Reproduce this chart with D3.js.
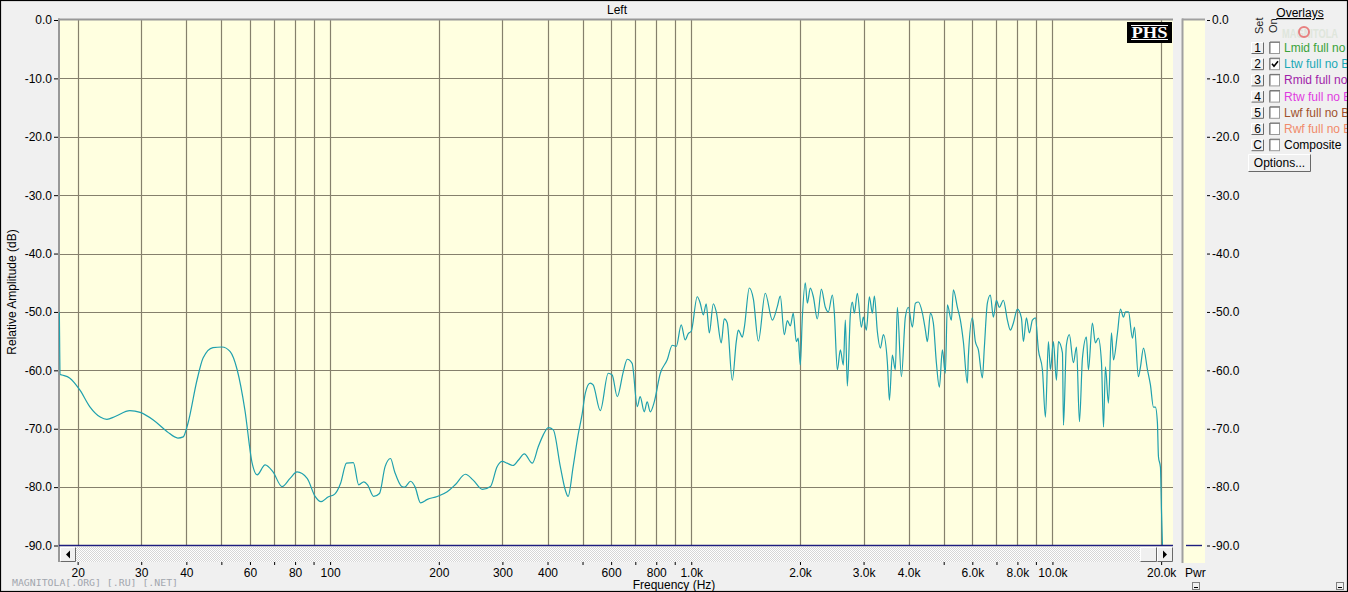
<!DOCTYPE html>
<html><head><meta charset="utf-8">
<script src="https://cdn.jsdelivr.net/npm/d3@7"></script>
<style>
html,body{margin:0;padding:0;background:#f0f0f0;overflow:hidden;}
svg{display:block;font-family:"Liberation Sans",Arial,sans-serif;}
</style></head><body>
<svg id="chart" width="1348" height="592"></svg>
<script>
// ---------------- data ----------------
const chartTitle = "Left";
const freqRange = [17.76, 21570];
const dbRange = [-90, 0];
// [frequency Hz, level dB]
const lowBand = [[17.8,-50.0],[17.9,-60.7],[18.1,-60.8],[19.0,-61.3],[20.3,-63.4],[21.6,-66.2],[23.1,-68.0],[24.1,-68.4],[25.4,-67.9],[27.9,-66.9],[29.8,-67.2],[32.4,-68.5],[35.4,-70.5],[37.9,-71.6],[39.2,-71.4],[40.4,-69.1],[42.8,-61.7],[44.5,-57.9],[47.4,-56.1],[50.2,-56.0],[52.9,-56.8],[55.3,-59.9],[58.1,-66.8],[60.8,-75.8],[62.8,-77.9],[66.1,-76.2],[69.5,-77.4],[73.6,-79.9],[77.5,-78.5],[81.0,-77.4],[86.4,-78.5],[90.9,-81.6],[94.4,-82.5]];
const midBand = [[98.7,-81.7],[103,-81.2],[107,-79.3],[111,-75.9],[116,-75.8],[120,-79.6],[124,-79.1],[127,-79.6],[132,-81.6],[137,-81.1],[142,-76.5],[147,-75.1],[151,-77.4],[158,-79.9],[161,-80.0],[167,-79.0],[172,-80.0],[178,-82.7],[186,-82.1],[198,-81.6],[211,-80.8],[222,-79.6],[237,-77.8],[249,-78.8],[264,-80.4],[278,-79.9],[290,-76.5],[300,-75.6],[309,-75.9],[321,-76.3],[332,-75.4],[345,-74.3],[363,-75.9],[377,-73.1],[389,-71.1],[402,-69.8],[415,-70.2],[434,-76.5],[448,-80.5],[456,-81.6],[471,-76.5],[486,-71.1],[499,-67.4],[509,-63.9],[525,-62.2],[535,-62.5],[560,-66.9],[589,-60.5],[604,-60.8],[624,-64.5],[648,-60.3],[665,-58.1],[686,-58.8],[709,-66.2],[722,-64.5],[741,-67.1],[755,-65.4],[770,-67.1],[790,-65.4],[821,-60.5],[858,-58.2],[886,-55.7],[909,-55.9],[938,-52.2],[962,-54.8],[981,-53.7]];
const highBand = [[1000,-53.3],[1039,-47.4],[1059,-48.5],[1080,-50.5],[1100,-48.6],[1122,-53.6],[1151,-48.6],[1173,-50.0],[1211,-55.3],[1234,-51.2],[1258,-51.9],[1299,-61.7],[1333,-55.0],[1350,-53.1],[1385,-54.3],[1403,-52.6],[1448,-45.9],[1486,-47.8],[1534,-55.0],[1603,-46.8],[1677,-51.4],[1731,-49.1],[1764,-47.3],[1810,-53.9],[1845,-51.5],[1881,-52.4],[1916,-50.2],[1954,-55.1],[1978,-54.5],[2004,-59.1],[2030,-51.0],[2069,-45.0],[2096,-48.5],[2136,-45.9],[2178,-47.4],[2234,-51.2],[2292,-46.1],[2351,-49.2],[2396,-50.0],[2459,-47.1],[2490,-50.2],[2538,-59.9],[2587,-56.5],[2637,-59.1],[2671,-51.4],[2705,-62.7],[2757,-50.5],[2793,-48.3],[2829,-50.2],[2883,-46.8],[2958,-52.6],[2996,-50.9],[3054,-53.1],[3113,-47.4],[3173,-50.2],[3214,-47.3],[3276,-53.4],[3339,-56.2],[3404,-53.9],[3492,-58.7],[3537,-65.1],[3604,-57.4],[3673,-59.9],[3721,-49.2],[3818,-61.1],[3916,-50.9],[3992,-49.2],[4095,-52.6],[4174,-48.5],[4255,-48.3],[4365,-50.2],[4449,-53.1],[4506,-55.1],[4593,-50.2],[4681,-51.9],[4772,-58.7],[4864,-62.9],[4958,-56.5],[5053,-60.5],[5118,-48.8],[5251,-51.4],[5318,-46.2],[5456,-49.2],[5561,-51.4],[5668,-55.1],[5814,-62.2],[5851,-57.7],[6003,-51.0],[6119,-55.1],[6237,-56.5],[6398,-61.3],[6480,-56.0],[6605,-48.5],[6732,-47.1],[6863,-50.9],[6996,-48.0],[7130,-49.2],[7315,-48.0],[7505,-51.4],[7649,-53.1],[7797,-51.9],[7998,-49.5],[8206,-51.0],[8311,-55.1],[8472,-51.0],[8635,-53.6],[8802,-51.4],[8972,-51.0],[9145,-56.5],[9382,-59.9],[9563,-68.0],[9747,-55.1],[9872,-59.9],[10063,-55.1],[10258,-61.7],[10389,-55.1],[10660,-57.0],[10730,-69.4],[10930,-55.7],[11140,-53.9],[11430,-58.7],[11660,-56.0],[11880,-68.8],[12110,-57.9],[12420,-54.3],[12580,-59.9],[12900,-51.9],[13150,-55.3],[13400,-54.5],[13670,-58.6],[13850,-69.7],[14020,-59.4],[14290,-65.6],[14570,-53.6],[14760,-58.2],[15140,-53.6],[15430,-49.5],[15730,-50.9],[15930,-50.0],[16240,-50.0],[16660,-54.5],[16870,-52.6],[17300,-61.1],[17530,-59.4],[17870,-56.2],[18330,-59.9],[18680,-62.5],[19040,-66.3],[19280,-66.3],[19530,-69.0],[19660,-74.8],[19910,-76.6],[20040,-83.9],[20170,-90.0]];

const freqTicks = [20,30,40,50,60,70,80,90,100,200,300,400,500,600,700,800,900,1000,2000,3000,4000,5000,6000,7000,8000,9000,10000,20000];
const freqTickLabels = ["20","30","40","","60","","80","","100","200","300","400","","600","","800","","1.0k","2.0k","3.0k","4.0k","","6.0k","","8.0k","","10.0k","20.0k"];
const dbTicks = [0,-10,-20,-30,-40,-50,-60,-70,-80,-90];

const overlaySet = ["1","2","3","4","5","6","C"];
const overlayNames = ["Lmid full no B","Ltw full no B","Rmid full no B","Rtw full no B","Lwf full no B","Rwf full no B","Composite"];
const overlayColors = ["#3aa23a","#1aa8b6","#a01ea8","#e03ce0","#a0522d","#f08a6a","#000000"];
const overlayOn = [false,true,false,false,false,false,false];

// ---------------- layout ----------------
const svg = d3.select("#chart");
const P = {left:59, right:1173, top:19, bottom:545.5};
const x = d3.scaleLog().domain(freqRange).range([P.left, P.right]);
const y = d3.scaleLinear().domain(dbRange).range([P.bottom, 20]);

svg.append("rect").attr("width",1348).attr("height",592).attr("fill","#f0f0f0");

// plot background
svg.append("rect").attr("x",P.left).attr("y",P.top).attr("width",P.right-P.left).attr("height",P.bottom-P.top+1).attr("fill","#ffffe0");

// grid
const grid = svg.append("g").attr("stroke","#85806c").attr("stroke-width",1.2);
grid.selectAll("line.v").data(freqTicks).join("line")
  .attr("x1",d=>Math.round(x(d))+0.5).attr("x2",d=>Math.round(x(d))+0.5)
  .attr("y1",P.top).attr("y2",P.bottom);
grid.selectAll("line.h").data(dbTicks.filter(d=>d>-90 && d<0)).join("line")
  .attr("y1",d=>Math.round(y(d))+0.5).attr("y2",d=>Math.round(y(d))+0.5)
  .attr("x1",P.left).attr("x2",P.right);

// plot borders top/left
svg.append("line").attr("x1",P.left-1).attr("x2",P.right).attr("y1",19.5).attr("y2",19.5).attr("stroke","#989898").attr("stroke-width",2);
svg.append("line").attr("x1",59).attr("x2",59).attr("y1",18.5).attr("y2",562).attr("stroke","#989898").attr("stroke-width",2);

// curve
svg.append("clipPath").attr("id","plotClip").append("rect")
  .attr("x",P.left).attr("y",P.top).attr("width",P.right-P.left).attr("height",P.bottom-P.top+1);
const curveData = lowBand.concat(midBand, highBand);
const line = d3.line().x(d=>x(d[0])).y(d=>y(d[1])).curve(d3.curveMonotoneX);
svg.append("path").datum(curveData).attr("d",line).attr("fill","none")
  .attr("stroke","#1fa0ae").attr("stroke-width",1.2).attr("clip-path","url(#plotClip)");

// -90 baseline (navy)
svg.append("line").attr("x1",P.left).attr("x2",P.right).attr("y1",y(-90)).attr("y2",y(-90))
  .attr("stroke","#1e1e80").attr("stroke-width",1.4);

// PHS logo
const logo = svg.append("g");
logo.append("rect").attr("x",1127).attr("y",22).attr("width",45).attr("height",21).attr("fill","#000");
logo.append("line").attr("x1",1131).attr("x2",1168).attr("y1",25.5).attr("y2",25.5).attr("stroke","#fff").attr("stroke-width",1);
logo.append("line").attr("x1",1131).attr("x2",1168).attr("y1",39.5).attr("y2",39.5).attr("stroke","#fff").attr("stroke-width",1);
logo.append("text").attr("x",1149.5).attr("y",38).attr("text-anchor","middle")
  .attr("font-family","'Liberation Serif','Times New Roman',serif").attr("font-weight","bold")
  .attr("font-size",17).attr("fill","#fff").attr("textLength",36).attr("lengthAdjust","spacingAndGlyphs").text("PHS");

// scrollbar
const defs = svg.append("defs");
const pat = defs.append("pattern").attr("id","dither").attr("width",2).attr("height",2).attr("patternUnits","userSpaceOnUse");
pat.append("rect").attr("width",2).attr("height",2).attr("fill","#ffffff");
pat.append("rect").attr("width",1).attr("height",1).attr("fill","#d6d6d6");
pat.append("rect").attr("x",1).attr("y",1).attr("width",1).attr("height",1).attr("fill","#d6d6d6");
svg.append("rect").attr("x",60).attr("y",547).attr("width",1113).attr("height",15).attr("fill","url(#dither)");
function raisedBox(g, bx, by, bw, bh){
  g.append("rect").attr("x",bx).attr("y",by).attr("width",bw).attr("height",bh).attr("fill","#f0f0f0");
  g.append("path").attr("d",`M${bx+0.5},${by+bh-0.5}V${by+0.5}H${bx+bw-0.5}`).attr("fill","none").attr("stroke","#ffffff");
  g.append("path").attr("d",`M${bx+0.5},${by+bh-0.5}H${bx+bw-0.5}V${by+0.5}`).attr("fill","none").attr("stroke","#696969");
}
const sb = svg.append("g");
raisedBox(sb, 60, 547, 16, 15);
raisedBox(sb, 1140, 547, 17, 15);
raisedBox(sb, 1157, 547, 16, 15);
sb.append("path").attr("d","M66,554.5 L70,550.5 L70,558.5 Z").attr("fill","#000");
sb.append("path").attr("d","M1167,554.5 L1163,550.5 L1163,558.5 Z").attr("fill","#000");

// axes
const xAxis = d3.axisBottom(x).tickValues(freqTicks)
  .tickFormat((d,i)=>freqTickLabels[i]).tickSize(3).tickPadding(3.5);
const gx = svg.append("g").attr("transform","translate(0,562)").call(xAxis);
gx.select(".domain").remove();
gx.selectAll("text").attr("font-size",12).attr("font-family","'Liberation Sans',Arial,sans-serif").attr("fill","#000");
gx.selectAll("line").attr("stroke","#000");

const yAxis = d3.axisLeft(y).tickValues(dbTicks).tickFormat(d=>d.toFixed(1)).tickSize(4).tickPadding(2);
const gy = svg.append("g").attr("transform","translate(58,0)").call(yAxis);
gy.select(".domain").remove();
gy.selectAll("text").attr("font-size",12).attr("font-family","'Liberation Sans',Arial,sans-serif").attr("fill","#000");
gy.selectAll("line").attr("stroke","#000");

// titles
svg.append("text").attr("x",617).attr("y",14).attr("text-anchor","middle").attr("font-size",12).text(chartTitle);
svg.append("text").attr("transform","translate(16,292) rotate(-90)").attr("text-anchor","middle").attr("font-size",12).text("Relative Amplitude (dB)");
svg.append("text").attr("x",674).attr("y",589).attr("text-anchor","middle").attr("font-size",12).text("Frequency (Hz)");
svg.append("text").attr("x",12).attr("y",586).attr("font-size",9).attr("font-family","'DejaVu Sans Mono',monospace")
  .attr("fill","#a2a6ae").attr("textLength",166).attr("lengthAdjust","spacingAndGlyphs").text("MAGNITOLA[.ORG] [.RU] [.NET]");

// Pwr panel
svg.append("rect").attr("x",1183).attr("y",19).attr("width",22).attr("height",544).attr("fill","#ffffe0");
svg.append("line").attr("x1",1182.5).attr("x2",1182.5).attr("y1",18.5).attr("y2",563).attr("stroke","#a0a0a0").attr("stroke-width",2);
svg.append("line").attr("x1",1182).attr("x2",1205).attr("y1",19.5).attr("y2",19.5).attr("stroke","#a0a0a0").attr("stroke-width",2);
svg.append("line").attr("x1",1186).attr("x2",1202).attr("y1",y(-90)).attr("y2",y(-90)).attr("stroke","#1e1e80").attr("stroke-width",1.4);
const yAxisR = d3.axisRight(y).tickValues(dbTicks).tickFormat(d=>d.toFixed(1)).tickSize(3).tickPadding(2);
const gyr = svg.append("g").attr("transform","translate(1207,0)").call(yAxisR);
gyr.select(".domain").remove();
gyr.selectAll("text").attr("font-size",12).attr("font-family","'Liberation Sans',Arial,sans-serif").attr("fill","#000");
gyr.selectAll("line").attr("stroke","#000");
svg.append("text").attr("x",1185).attr("y",577).attr("font-size",12).text("Pwr");
function tinyBox(bx,by){
  svg.append("rect").attr("x",bx+0.5).attr("y",by+0.5).attr("width",7).attr("height",7).attr("fill","#f0f0f0").attr("stroke","#808080");
  svg.append("line").attr("x1",bx+2).attr("x2",bx+6).attr("y1",by+5.5).attr("y2",by+5.5).attr("stroke","#000");
}
tinyBox(1192,582); tinyBox(1336,582);

// Overlays panel
const ov = svg.append("g");
ov.append("text").attr("x",1300).attr("y",17).attr("text-anchor","middle").attr("font-size",12)
  .attr("text-decoration","underline").text("Overlays");
// faint watermark logo
ov.append("text").attr("x",1282).attr("y",38).attr("font-size",13).attr("font-weight","bold")
  .attr("fill","#dfe6dc").attr("textLength",56).attr("lengthAdjust","spacingAndGlyphs").text("MAGNITOLA");
ov.append("circle").attr("cx",1304).attr("cy",32).attr("r",5).attr("fill","none").attr("stroke","#e88080").attr("stroke-width",2);
ov.append("text").attr("transform","translate(1263,34) rotate(-90)").attr("font-size",11).attr("fill","#222").text("Set");
ov.append("text").attr("transform","translate(1277,33) rotate(-90)").attr("font-size",11).attr("fill","#222").text("On");
svg.append("clipPath").attr("id","ovClip").append("rect").attr("x",1240).attr("y",0).attr("width",1106).attr("height",200);
const rows = ov.append("g").attr("clip-path","url(#ovClip)");
overlaySet.forEach((s,i)=>{
  const top = 42 + 16.2*i;
  raisedBox(rows, 1251, top, 13, 12);
  rows.append("text").attr("x",1257.5).attr("y",top+10).attr("text-anchor","middle").attr("font-size",12).text(s);
  rows.append("rect").attr("x",1269.5).attr("y",top+0.5).attr("width",10).attr("height",11).attr("fill","#fff").attr("stroke","#9a9a9a");
  rows.append("path").attr("d",`M1270,${top+11}V${top}H1280`).attr("fill","none").attr("stroke","#707070");
  if(overlayOn[i]){
    rows.append("path").attr("d",`M1272,${top+5.5} L1274,${top+8} L1278,${top+3}`).attr("fill","none").attr("stroke","#000").attr("stroke-width",1.6);
  }
  rows.append("text").attr("x",1284).attr("y",top+10).attr("font-size",12).attr("fill",overlayColors[i]).text(overlayNames[i]);
});
raisedBox(ov, 1248, 154, 63, 18);
ov.append("text").attr("x",1279.5).attr("y",167).attr("text-anchor","middle").attr("font-size",12).text("Options...");

// outer frame
svg.append("rect").attr("x",0.5).attr("y",0.5).attr("width",1347).attr("height",591).attr("fill","none").attr("stroke","#000").attr("stroke-width",1.2);
</script>
</body></html>
